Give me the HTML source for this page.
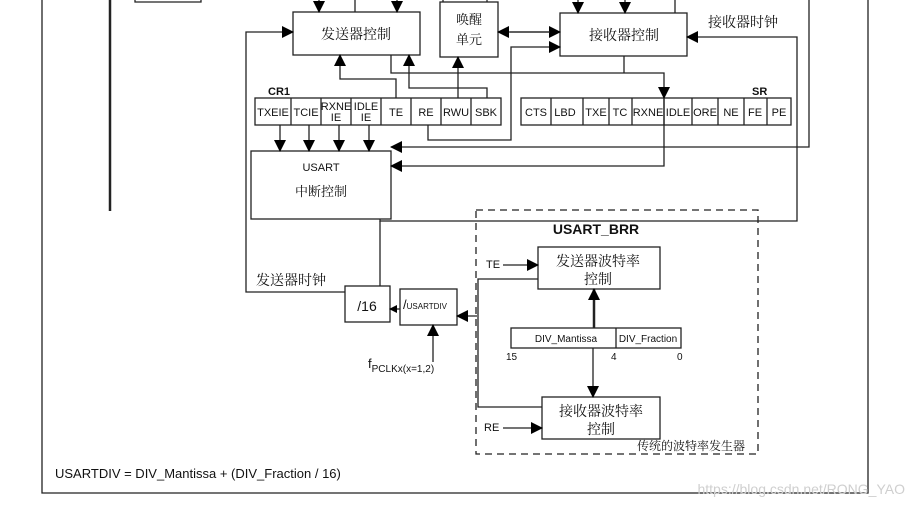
<!DOCTYPE html>
<html><head><meta charset="utf-8"><style>
html,body{margin:0;padding:0;background:#fff;width:915px;height:507px;overflow:hidden}
svg text{font-family:"Liberation Sans","Noto Sans CJK SC",sans-serif;fill:#111}
.c{font-family:"Noto Serif CJK SC","Noto Sans CJK SC",serif !important}
</style></head><body>
<svg width="915" height="507" viewBox="0 0 915 507" xmlns="http://www.w3.org/2000/svg">
<defs>
<marker id="a" markerWidth="8" markerHeight="8" refX="7" refY="4" orient="auto" markerUnits="userSpaceOnUse"><path d="M0,0 L8,4 L0,8 z" fill="#000"/></marker>
<marker id="b" markerWidth="12" markerHeight="12" refX="11" refY="6" orient="auto" markerUnits="userSpaceOnUse"><path d="M0,0 L12,6 L0,12 z" fill="#000"/></marker>
</defs>
<g stroke="#222" stroke-width="1.3" fill="none">
<!-- frame -->
<polyline points="42,0 42,493 868,493 868,0"/>
<line x1="110" y1="0" x2="110" y2="211" stroke-width="2.5"/>
<polyline points="135,0 135,2 201,2 201,0"/>
<!-- boxes -->
<rect x="293" y="12" width="127" height="43"/>
<rect x="440" y="2" width="58" height="55"/>
<rect x="560" y="13" width="127" height="43"/>
<rect x="251" y="151" width="140" height="68"/>
<!-- top arrows -->
<line x1="319" y1="0" x2="319" y2="12" marker-end="url(#b)"/>
<line x1="397" y1="0" x2="397" y2="12" marker-end="url(#b)"/>
<line x1="355" y1="0" x2="355" y2="12"/>
<line x1="443" y1="0" x2="443" y2="2"/>
<line x1="487" y1="0" x2="487" y2="2"/>
<line x1="578" y1="0" x2="578" y2="13" marker-end="url(#b)"/>
<line x1="625" y1="0" x2="625" y2="13" marker-end="url(#b)"/>
<line x1="675" y1="0" x2="675" y2="13"/>
<!-- CR1 -->
<rect x="255" y="98" width="246" height="27"/>
<path d="M291,98V125M321,98V125M351,98V125M381,98V125M411,98V125M441,98V125M471,98V125"/>
<!-- SR -->
<rect x="521" y="98" width="270" height="27"/>
<path d="M551,98V125M583,98V125M609,98V125M632,98V125M664,98V125M692,98V125M718,98V125M744,98V125M767,98V125"/>
<!-- CR1 to USART -->
<line x1="280" y1="125" x2="280" y2="151" marker-end="url(#b)"/>
<line x1="309" y1="125" x2="309" y2="151" marker-end="url(#b)"/>
<line x1="339" y1="125" x2="339" y2="151" marker-end="url(#b)"/>
<line x1="369" y1="125" x2="369" y2="151" marker-end="url(#b)"/>
<!-- TE to tx ctrl -->
<polyline points="396,98 396,79 340,79 340,55" marker-end="url(#b)"/>
<polyline points="487,98 487,88 409,88 409,55" marker-end="url(#b)"/>
<line x1="458" y1="98" x2="458" y2="57" marker-end="url(#b)"/>
<!-- RE to rx ctrl -->
<polyline points="428,125 428,140 511,140 511,47 560,47" marker-end="url(#b)"/>
<!-- wake <-> rx -->
<line x1="510" y1="32" x2="560" y2="32" marker-end="url(#b)"/>
<line x1="550" y1="32" x2="498" y2="32" marker-end="url(#b)"/>
<!-- rx ctrl bottom -->
<polyline points="624,56 624,73"/>
<polyline points="391,55 391,73 664,73 664,98" marker-end="url(#b)"/>
<polyline points="664,98 664,166 391,166" marker-end="url(#b)"/>
<polyline points="809,0 809,147 391,147" marker-end="url(#b)"/>
<!-- rx clock -->
<polyline points="380,219 380,221 797,221 797,37 687,37" marker-end="url(#b)"/>
<line x1="380" y1="221" x2="380" y2="286"/>
<!-- tx clock -->
<polyline points="345,292 246,292 246,32 293,32" marker-end="url(#b)"/>
<!-- /16 and usartdiv -->
<rect x="345" y="286" width="45" height="36"/>
<rect x="400" y="289" width="57" height="36"/>
<line x1="400" y1="309" x2="390" y2="309" marker-end="url(#a)"/>
<line x1="477" y1="316" x2="457" y2="316" marker-end="url(#b)"/>
<line x1="433" y1="362" x2="433" y2="325" marker-end="url(#b)"/>
<polyline points="538,279 478,279 478,407 542,407"/>
<!-- dashed box -->
<rect x="476" y="210" width="282" height="244" stroke-dasharray="7,5"/>
<rect x="538" y="247" width="122" height="42"/>
<rect x="542" y="397" width="118" height="42"/>
<rect x="511" y="328" width="170" height="20"/>
<line x1="616" y1="328" x2="616" y2="348"/>
<line x1="594" y1="328" x2="594" y2="289" stroke-width="2.5" marker-end="url(#b)"/>
<line x1="593" y1="348" x2="593" y2="397" marker-end="url(#b)"/>
<line x1="503" y1="265" x2="538" y2="265" marker-end="url(#b)"/>
<line x1="503" y1="428" x2="542" y2="428" marker-end="url(#b)"/>
</g>
<g font-size="11">
<text x="356" y="39" font-size="14" class="c" text-anchor="middle">发送器控制</text>
<text x="469" y="24" font-size="13" class="c" text-anchor="middle">唤醒</text>
<text x="469" y="44" font-size="13" class="c" text-anchor="middle">单元</text>
<text x="624" y="40" font-size="14" class="c" text-anchor="middle">接收器控制</text>
<text x="708" y="27" font-size="14" class="c">接收器时钟</text>
<text x="268" y="95" font-weight="bold">CR1</text>
<text x="752" y="95" font-weight="bold">SR</text>
<g text-anchor="middle">
<text x="273" y="116">TXEIE</text><text x="306" y="116">TCIE</text>
<text x="336" y="110">RXNE</text><text x="336" y="121">IE</text>
<text x="366" y="110">IDLE</text><text x="366" y="121">IE</text>
<text x="396" y="116">TE</text><text x="426" y="116">RE</text>
<text x="456" y="116">RWU</text><text x="486" y="116">SBK</text>
<text x="536" y="116">CTS</text><text x="565" y="116">LBD</text>
<text x="596" y="116">TXE</text><text x="620" y="116">TC</text>
<text x="648" y="116">RXNE</text><text x="678" y="116">IDLE</text>
<text x="705" y="116">ORE</text><text x="731" y="116">NE</text>
<text x="755" y="116">FE</text><text x="779" y="116">PE</text>
<text x="321" y="171">USART</text>
<text x="321" y="196" font-size="13" class="c">中断控制</text>
<text x="596" y="234" font-size="14" font-weight="bold">USART_BRR</text>
<text x="598" y="266" font-size="14" class="c">发送器波特率</text>
<text x="598" y="284" font-size="14" class="c">控制</text>
<text x="601" y="416" font-size="14" class="c">接收器波特率</text>
<text x="601" y="434" font-size="14" class="c">控制</text>
<text x="566" y="342" font-size="10">DIV_Mantissa</text>
<text x="648" y="342" font-size="10">DIV_Fraction</text>
<text x="367" y="311" font-size="14">/16</text>
</g>
<text x="256" y="285" font-size="14" class="c">发送器时钟</text>
<text x="403" y="309" font-size="13">/<tspan font-size="8">USARTDIV</tspan></text>
<text x="368" y="368" font-size="13">f<tspan font-size="10" dy="4">PCLKx(x=1,2)</tspan></text>
<text x="486" y="268">TE</text>
<text x="484" y="431">RE</text>
<text x="506" y="360" font-size="10">15</text>
<text x="611" y="360" font-size="10">4</text>
<text x="677" y="360" font-size="10">0</text>
<text x="745" y="450" font-size="12" class="c" text-anchor="end">传统的波特率发生器</text>
<text x="55" y="478" font-size="13">USARTDIV = DIV_Mantissa + (DIV_Fraction / 16)</text>
<text x="905" y="494" font-size="14" fill="#ccc" style="fill:#cfcfcf" text-anchor="end">https://blog.csdn.net/RONG_YAO</text>
</g>
</svg>
</body></html>
